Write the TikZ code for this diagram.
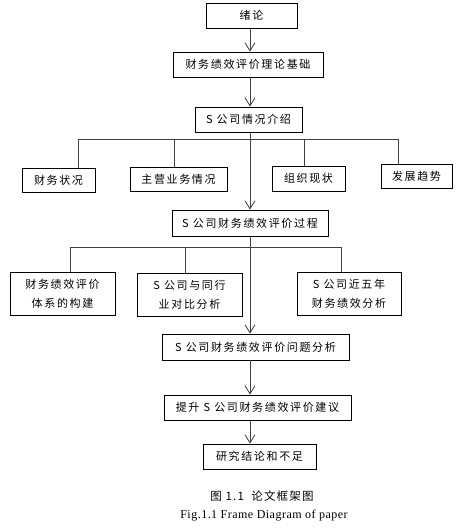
\documentclass[tikz,border=0pt]{standalone}
\usepackage{fontspec}
\setmainfont{Liberation Serif}
\newfontfamily\cjk[LetterSpace=15]{Noto Sans CJK SC}
\newfontfamily\cjkcap[LetterSpace=10]{Noto Sans CJK SC}
\newfontfamily\capfont[LetterSpace=4]{Liberation Serif}
\usetikzlibrary{arrows.meta,shadows}
\begin{document}
\begin{tikzpicture}[x=1pt,y=-1pt,
  box/.style={draw=black, line width=0.9pt, fill=white, inner sep=0pt, align=center,
    font=\cjk\fontsize{11}{19}\selectfont,
    drop shadow={shadow xshift=0.9pt, shadow yshift=-0.9pt, fill=black, opacity=1}},
  link/.style={draw=black!75, line width=0.8pt},
  arr/.style={link, -{Straight Barb[length=8pt,width=10pt,line width=0.8pt]}}]
\useasboundingbox (0,0) rectangle (463,528);
\fill[white] (0,0) rectangle (463,528);
% nodes
\node[box, minimum width=91pt, minimum height=25pt] (n1) at (251.5,15.5) {绪论};
\node[box, minimum width=150pt, minimum height=25pt] (n2) at (248,64.5) {财务绩效评价理论基础};
\node[box, minimum width=107pt, minimum height=25pt] (n3) at (248.5,119.5) {S 公司情况介绍};
\node[box, minimum width=73pt, minimum height=24pt] (a1) at (58.5,180) {财务状况};
\node[box, minimum width=97pt, minimum height=24pt] (a2) at (178.5,179) {主营业务情况};
\node[box, minimum width=73pt, minimum height=25pt] (a3) at (308.5,178.5) {组织现状};
\node[box, minimum width=71pt, minimum height=24pt] (a4) at (416.5,176) {发展趋势};
\node[box, minimum width=156pt, minimum height=26pt] (n4) at (250,223) {S 公司财务绩效评价过程};
\node[box, minimum width=105pt, minimum height=43pt] (b1) at (62.5,293.5) {财务绩效评价\\体系的构建};
\node[box, minimum width=105pt, minimum height=43pt] (b2) at (189.5,294.5) {S 公司与同行\\业对比分析};
\node[box, minimum width=104pt, minimum height=43pt] (b3) at (349,293.5) {S 公司近五年\\财务绩效分析};
\node[box, minimum width=187pt, minimum height=26pt] (n5) at (255.5,347) {S 公司财务绩效评价问题分析};
\node[box, minimum width=187pt, minimum height=25pt] (n6) at (257.5,407.5) {提升 S 公司财务绩效评价建议};
\node[box, minimum width=113pt, minimum height=25pt] (n7) at (259.5,456.5) {研究结论和不足};
% trunk coordinates
\coordinate (tr) at (250,0);
\coordinate (h1) at (78,139);
\coordinate (h2) at (174,139);
\coordinate (h3) at (304,139);
\coordinate (h4) at (398,139);
\coordinate (g1) at (70,247);
\coordinate (g2) at (185,247);
\coordinate (g3) at (341,247);
% connectors
\draw[arr] (n1.south -| tr) -- (n2.north -| tr);
\draw[arr] (n2.south -| tr) -- (n3.north -| tr);
\draw[arr] (n3.south -| tr) -- (n4.north -| tr);
\draw[link] (h1) -- (h4);
\draw[link] (h1) -- (h1 |- a1.north);
\draw[link] (h2) -- (h2 |- a2.north);
\draw[link] (h3) -- (h3 |- a3.north);
\draw[link] (h4) -- (h4 |- a4.north);
\draw[arr] (n4.south -| tr) -- (n5.north -| tr);
\draw[link] (g1) -- (g3);
\draw[link] (g1) -- (g1 |- b1.north);
\draw[link] (g2) -- (g2 |- b2.north);
\draw[link] (g3) -- (g3 |- b3.north);
\draw[arr] (n5.south -| tr) -- (n6.north -| tr);
\draw[arr] (n6.south -| tr) -- (n7.north -| tr);
% caption
\node[font=\cjkcap\fontsize{11.5}{13}\selectfont] (cap1) at (262,496) {图 1.1\ \ 论文框架图};
\node[font=\capfont\fontsize{12}{14}\selectfont] (cap2) at (264,516) {Fig.1.1 Frame Diagram of paper};
\end{tikzpicture}
\end{document}
